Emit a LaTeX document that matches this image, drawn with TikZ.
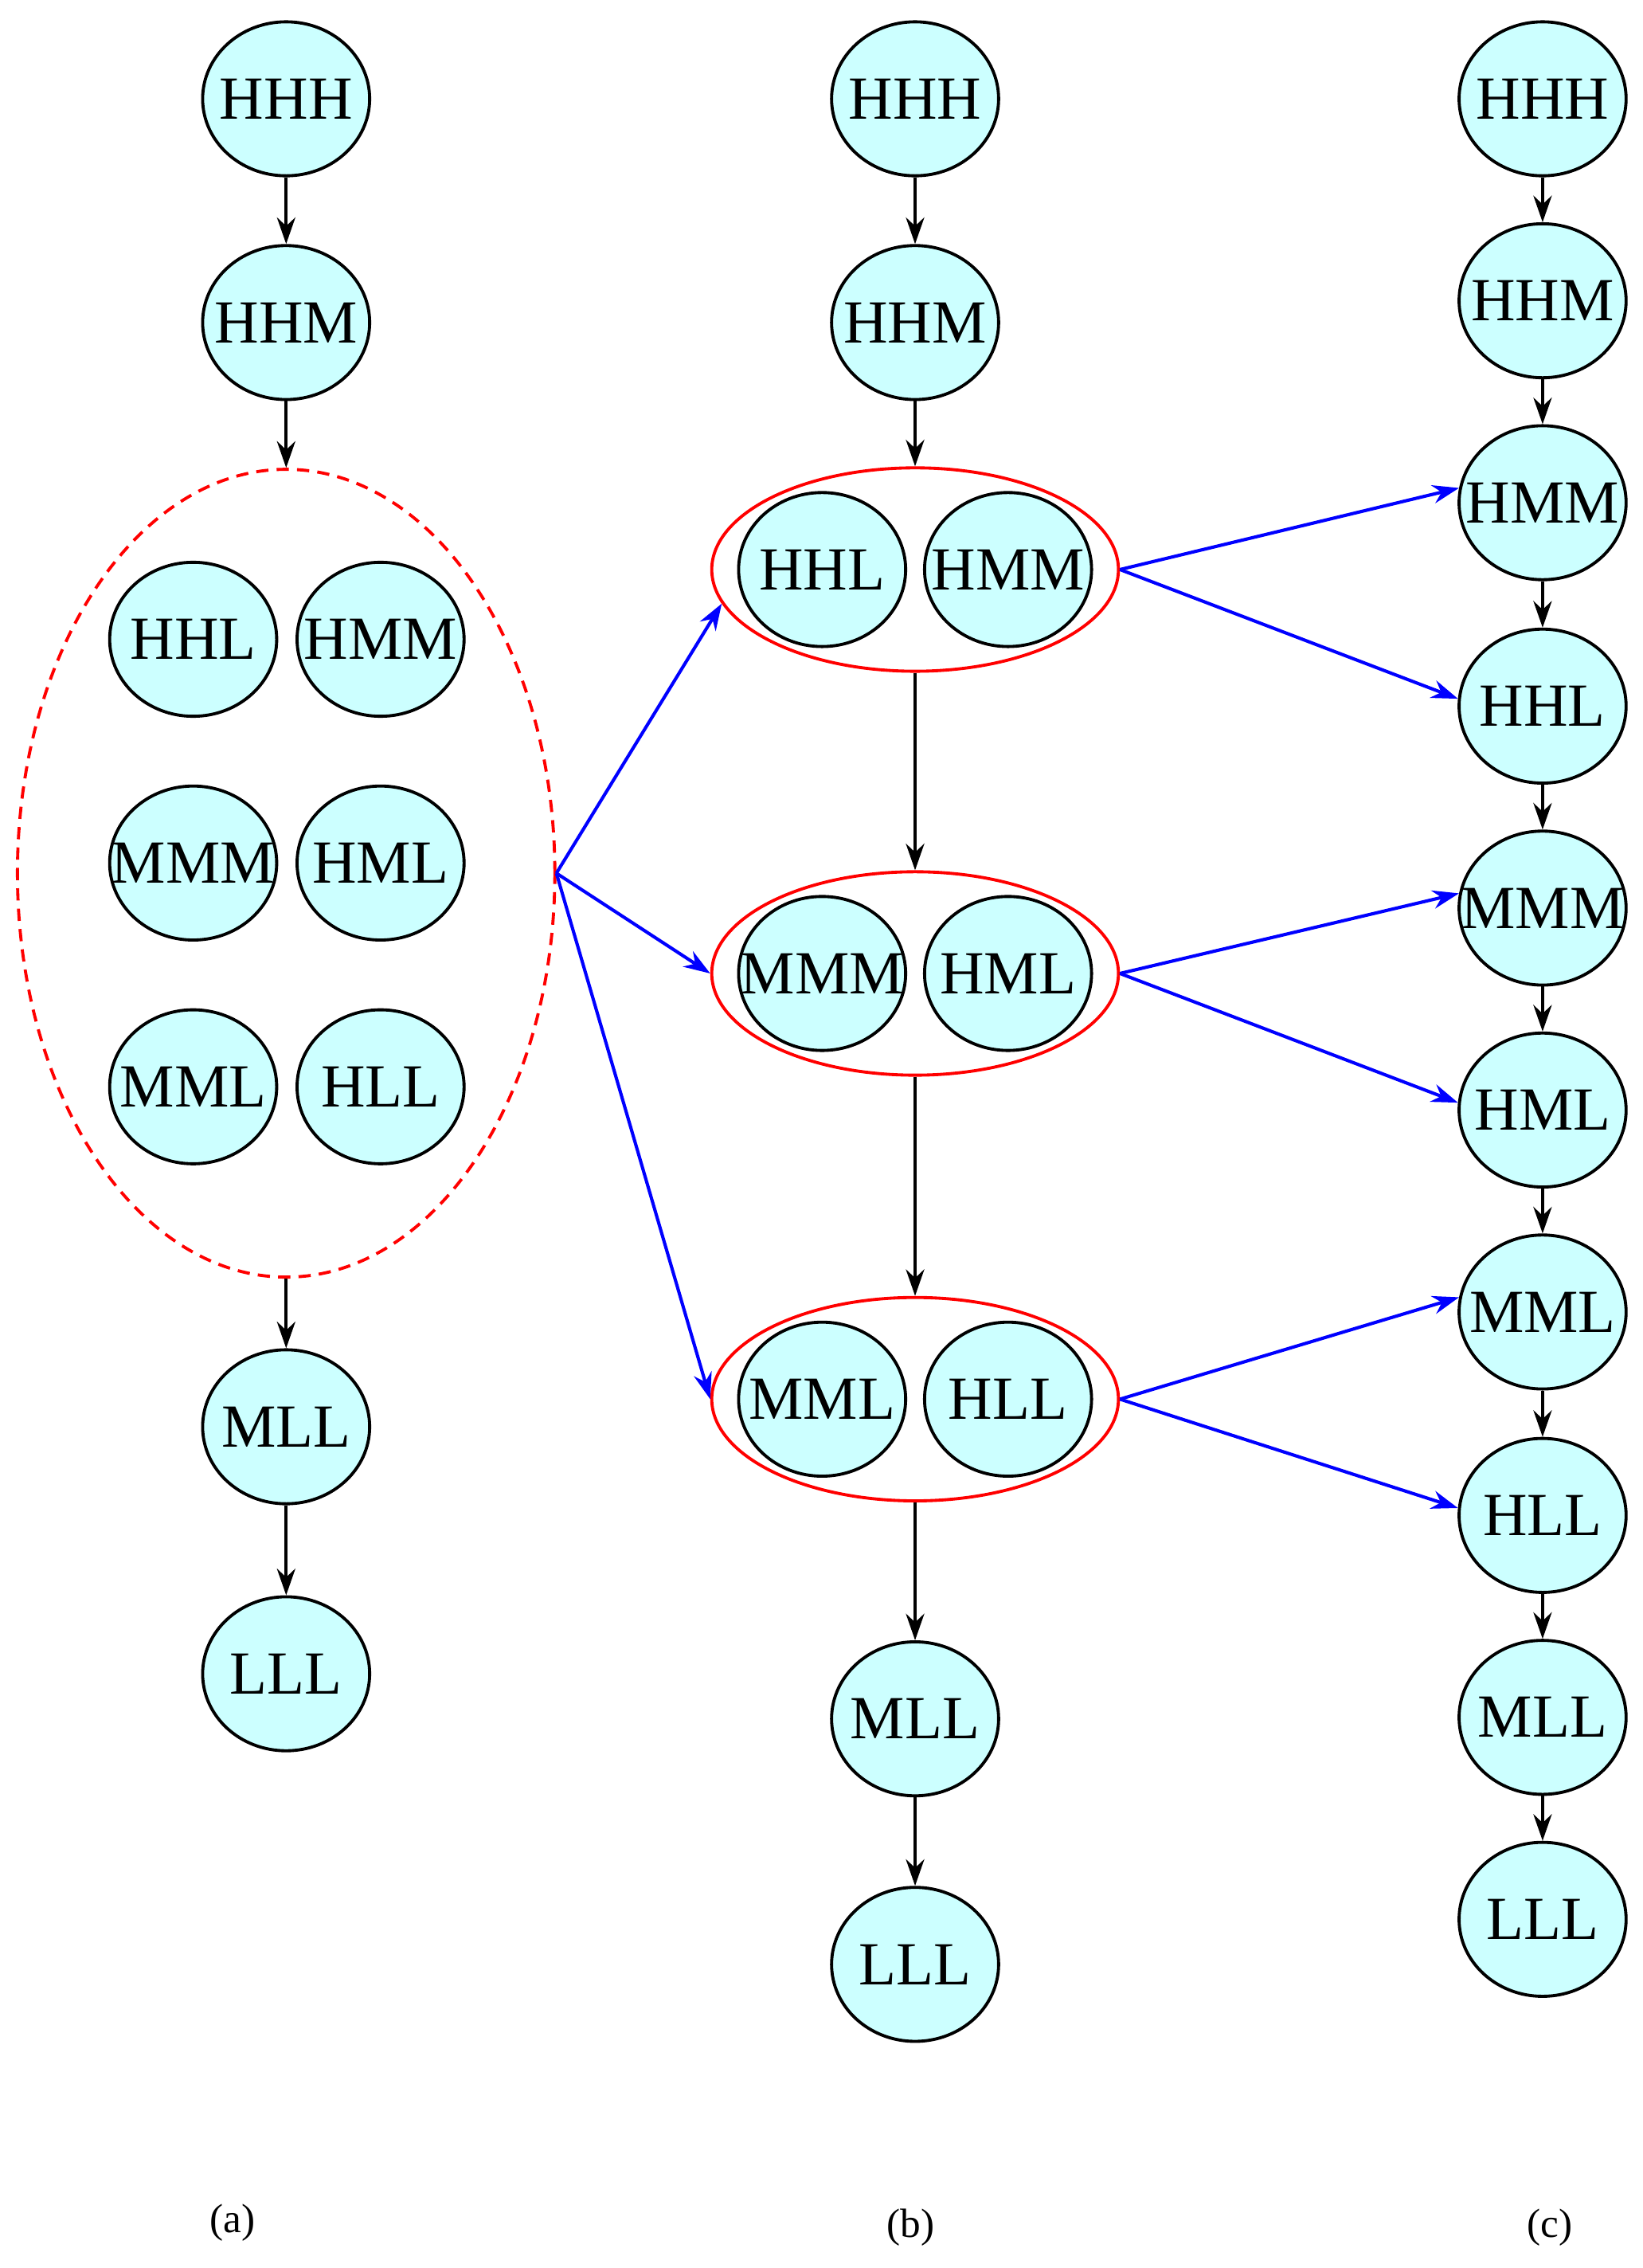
\documentclass[tikz,border=0pt]{standalone}
\usepackage{fontspec}
\setmainfont{Liberation Serif}
\usetikzlibrary{shapes.geometric,arrows.meta}
\definecolor{nodefill}{RGB}{204,255,255}
\newcommand\nt[1]{\makebox[0pt]{#1}}
\begin{document}
\begin{tikzpicture}[x=0.05cm,y=-0.05cm,
 st/.style={ellipse,draw=black,line width=3pt,fill=nodefill,minimum width=5.75cm,minimum height=5.3cm,inner sep=0pt,font=\fontsize{60}{62}\selectfont},
 ar/.style={-{Stealth[length=26pt,width=18pt]},line width=3.2pt},
 bar/.style={ar,blue},
 grp/.style={ellipse,draw=red,line width=3pt,minimum width=14cm,minimum height=7cm},
 lab/.style={font=\fontsize{40}{42}\selectfont}]
\useasboundingbox (0,0) rectangle (1131,1561);
% (a)
\node[st] (aHHH) at (197,68) {\nt{HHH}};
\node[st] (aHHM) at (197,222) {\nt{HHM}};
\node[ellipse,draw=red,dash pattern=on 12pt off 8pt,line width=3pt,minimum width=18.5cm,minimum height=27.8cm] (ag) at (197,601) {};
\node[st] (aHHL) at (133,440) {\nt{HHL}};
\node[st] (aHMM) at (262,440) {\nt{HMM}};
\node[st] (aMMM) at (133,594) {\nt{MMM}};
\node[st] (aHML) at (262,594) {\nt{HML}};
\node[st] (aMML) at (133,748) {\nt{MML}};
\node[st] (aHLL) at (262,748) {\nt{HLL}};
\node[st] (aMLL) at (197,982) {\nt{MLL}};
\node[st] (aLLL) at (197,1152) {\nt{LLL}};
\draw[ar] (aHHH) -- (aHHM);
\draw[ar] (aHHM) -- (ag.north);
\draw[ar] (ag.south) -- (aMLL);
\draw[ar] (aMLL) -- (aLLL);
% (b)
\node[st] (bHHH) at (630,68) {\nt{HHH}};
\node[st] (bHHM) at (630,222) {\nt{HHM}};
\node[grp] (g1) at (630,392) {};
\node[grp] (g2) at (630,670) {};
\node[grp] (g3) at (630,963) {};
\node[st] (bHHL) at (566,392) {\nt{HHL}};
\node[st] (bHMM) at (694,392) {\nt{HMM}};
\node[st] (bMMM) at (566,670) {\nt{MMM}};
\node[st] (bHML) at (694,670) {\nt{HML}};
\node[st] (bMML) at (566,963) {\nt{MML}};
\node[st] (bHLL) at (694,963) {\nt{HLL}};
\node[st] (bMLL) at (630,1183) {\nt{MLL}};
\node[st] (bLLL) at (630,1352) {\nt{LLL}};
\draw[ar] (bHHH) -- (bHHM);
\draw[ar] (bHHM) -- (g1.north);
\draw[ar] (g1.south) -- (g2.north);
\draw[ar] (g2.south) -- (g3.north);
\draw[ar] (g3.south) -- (bMLL);
\draw[ar] (bMLL) -- (bLLL);
% (c)
\foreach \n/\y in {HHH/68,HHM/207,HMM/346,HHL/486,MMM/625,HML/764,MML/903,HLL/1043,MLL/1182,LLL/1321}
  \node[st] (c\n) at (1062,\y) {\nt{\n}};
\foreach \a/\b in {HHH/HHM,HHM/HMM,HMM/HHL,HHL/MMM,MMM/HML,HML/MML,MML/HLL,HLL/MLL,MLL/LLL}
  \draw[ar] (c\a) -- (c\b);
% blue
\draw[bar] (ag.east) -- (g1.190);
\draw[bar] (ag.east) -- (g2.west);
\draw[bar] (ag.east) -- (g3.west);
\draw[bar] (g1.east) -- (cHMM.170);
\draw[bar] (g1.east) -- (cHHL.175);
\draw[bar] (g2.east) -- (cMMM.170);
\draw[bar] (g2.east) -- (cHML.175);
\draw[bar] (g3.east) -- (cMML.170);
\draw[bar] (g3.east) -- (cHLL.175);
\node[lab] (la) at (160,1530) {(a)};
\node[lab] (lb) at (627,1533) {(b)};
\node[lab] (lc) at (1067,1533) {(c)};
\end{tikzpicture}
\end{document}
